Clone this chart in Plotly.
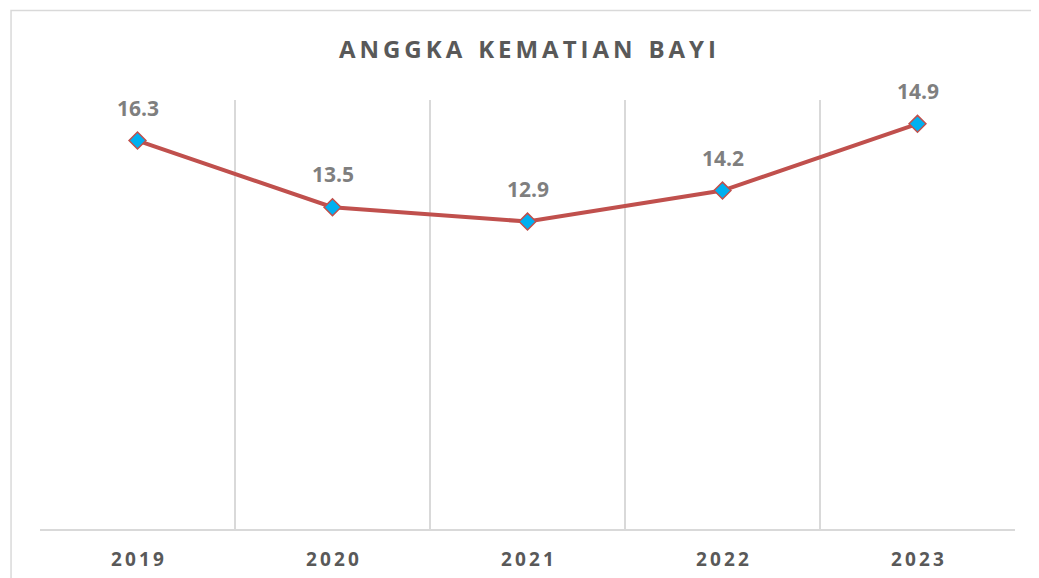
import plotly.graph_objects as go

# data
years = ["2019", "2020", "2021", "2022", "2023"]
# plotted positions as drawn in the source chart (last point sits higher than its label)
akb = [16.3, 13.5, 12.9, 14.2, 17.0]
labels = ["16.3", "13.5", "12.9", "14.2", "14.9"]

TITLE = "ANGGKA KEMATIAN BAYI"
LINE = "#C0504D"
MARKER = "#00B0F0"
GRID = "#D9D9D9"
FONT = "Open Sans"


def spaced(s, gap="\u2009"):
    """Excel-style letter spacing using thin spaces."""
    return gap.join(ch if ch != " " else "\u2009\u2009" for ch in s)


xs = list(range(len(years)))

fig = go.Figure()

fig.add_trace(go.Scatter(
    x=xs, y=akb,
    mode="lines+markers",
    line=dict(color=LINE, width=4),
    marker=dict(symbol="diamond", size=13, color=MARKER,
                line=dict(color=LINE, width=1.5)),
    showlegend=False,
    hoverinfo="skip",
))

# value labels above points
for x, v, t in zip(xs, akb, labels):
    fig.add_annotation(
        x=x, y=v, text=t, showarrow=False,
        yshift=33, font=dict(family=FONT, size=21, color="#7F7F7F", weight="bold"),
    )

# outer chart border (Excel chart area)
fig.add_shape(type="rect", xref="paper", yref="paper",
              x0=-0.0297, x1=1.2, y0=-0.5, y1=1.2086,
              line=dict(color=GRID, width=1.5), layer="below")

# page has an 8px body margin, so the figure is sized/offset to fit the window
fig.update_layout(
    width=1031, height=570,
    margin=dict(l=32, r=24, t=92, b=49, autoexpand=False),
    paper_bgcolor="white", plot_bgcolor="white",
    title=dict(text=spaced(TITLE), x=0.5, xref="paper", xanchor="center",
               y=0.927, yanchor="middle",
               font=dict(family=FONT, size=24, color="#595959", weight="bold")),
    xaxis=dict(
        range=[-0.5, len(years) - 0.5],
        tickvals=xs, ticktext=[spaced(y) for y in years],
        tickfont=dict(family=FONT, size=19, color="#595959", weight="bold"),
        ticks="", ticklabelstandoff=12, automargin=False,
        showgrid=False, zeroline=False,
        showline=True, linecolor=GRID, linewidth=1.5,
        minor=dict(tickvals=[i - 0.5 for i in range(len(years) + 1)],
                   showgrid=True, gridcolor=GRID, gridwidth=1.5, ticks=""),
        fixedrange=True,
    ),
    yaxis=dict(range=[0, 18], showgrid=False, zeroline=False, automargin=False,
               showticklabels=False, ticks="", fixedrange=True),
)

fig.write_html("out.html")
